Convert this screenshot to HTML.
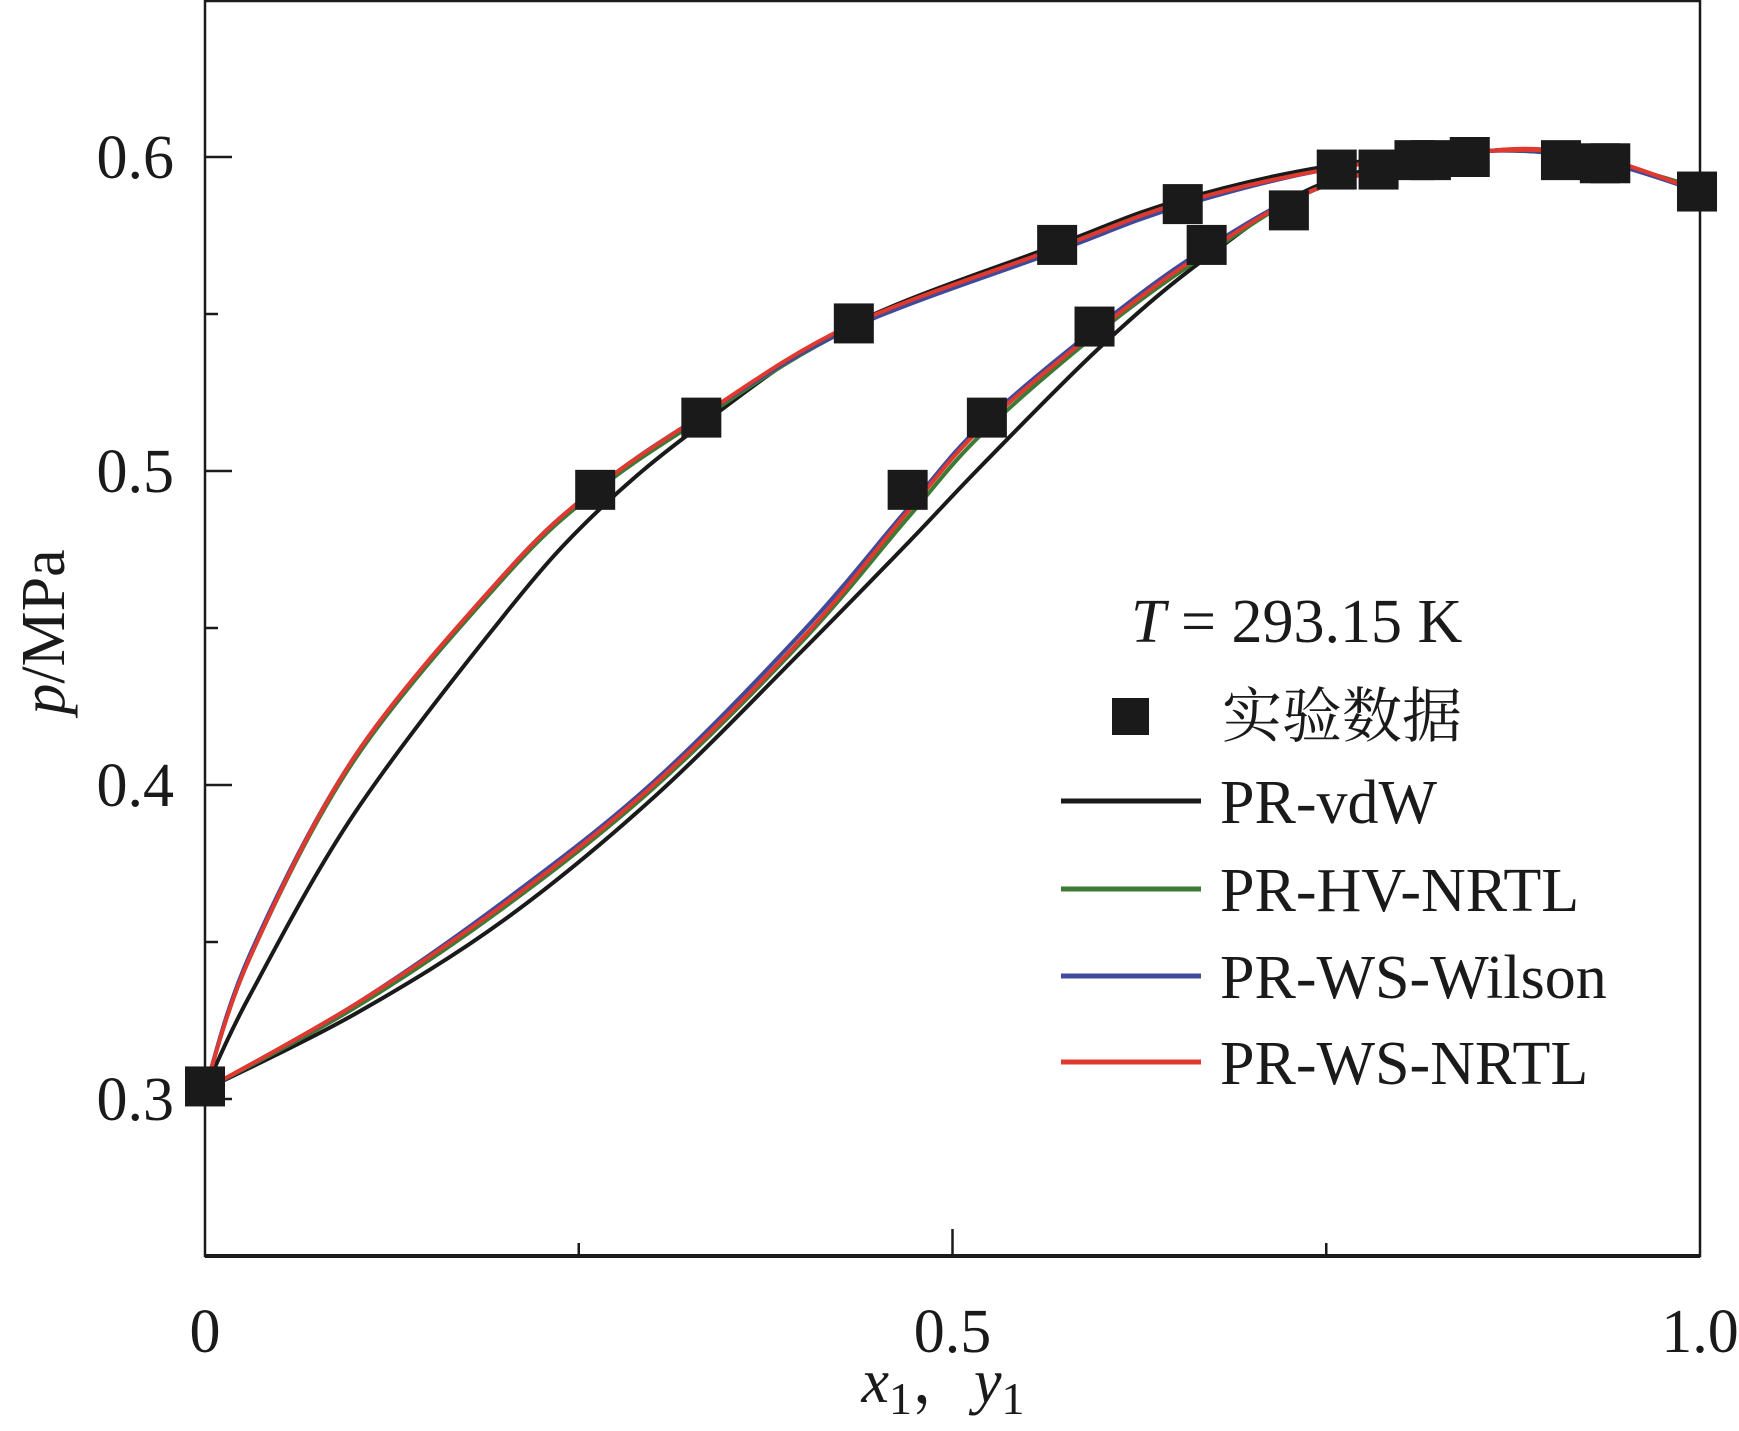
<!DOCTYPE html>
<html><head><meta charset="utf-8"><style>
html,body{margin:0;padding:0;background:#fff;}
svg text{font-family:"Liberation Serif","Noto Serif CJK SC",serif;fill:#1a1a1a;}
</style></head><body>
<svg id="chart" width="1739" height="1426" viewBox="0 0 1739 1426" xmlns="http://www.w3.org/2000/svg">
<g id="plot"></g>
</svg>
<script>
const xTicks=[0,0.25,0.5,0.75,1.0];
const xTickLabels=["0","","0.5","","1.0"];
const yTicks=[0.3,0.35,0.4,0.45,0.5,0.55,0.6];
const yTickLabels=["0.3","","0.4","","0.5","","0.6"];
const expX=[0,0.261,0.332,0.434,0.570,0.654,0.757,0.785,0.809,0.820,0.846,0.907,0.933,0.940,0.998,0.470,0.523,0.595,0.670,0.725];
const expP=[0.304,0.494,0.517,0.547,0.572,0.585,0.596,0.596,0.599,0.599,0.600,0.599,0.598,0.598,0.589,0.494,0.517,0.546,0.572,0.583];
const dewX=[0,0.03,0.1,0.2,0.26,0.33,0.43,0.57,0.65,0.75,0.86,0.93,1.0];
const bubX=[0,0.1,0.2,0.3,0.4,0.47,0.52,0.6,0.67,0.75,0.86,0.93,1.0];
const vdwDew=[0.303,0.333,0.391,0.454,0.486,0.514,0.546,0.572,0.586,0.597,0.602,0.599,0.590];
const vdwBub=[0.303,0.327,0.357,0.396,0.443,0.477,0.502,0.540,0.568,0.592,0.602,0.599,0.590];
const hvDew=[0.303,0.345,0.408,0.466,0.493,0.516,0.545,0.571,0.585,0.596,0.602,0.599,0.590];
const hvBub=[0.303,0.329,0.361,0.399,0.446,0.485,0.512,0.545,0.569,0.591,0.602,0.599,0.590];
const wilDew=[0.303,0.346,0.409,0.467,0.494,0.517,0.545,0.570,0.584,0.596,0.602,0.599,0.589];
const wilBub=[0.303,0.330,0.363,0.401,0.449,0.488,0.515,0.547,0.571,0.591,0.602,0.599,0.589];
const wsDew=[0.303,0.345,0.409,0.467,0.494,0.517,0.546,0.571,0.585,0.596,0.602,0.600,0.589];
const wsBub=[0.303,0.330,0.362,0.400,0.447,0.487,0.514,0.546,0.570,0.591,0.602,0.600,0.589];
const seriesNames=["PR-vdW","PR-HV-NRTL","PR-WS-Wilson","PR-WS-NRTL"];
const seriesColors=["#1a1a1a","#3d7a35","#3f4a9a","#e0392f"];

const L=205,R=1700,T=0,B=1256,pMin=0.25,pMax=0.65;
const sx=v=>L+(R-L)*v;
const sy=v=>B-(B-T)*(v-pMin)/(pMax-pMin);
const NS="http://www.w3.org/2000/svg";
const g=document.getElementById('plot');
function mk(tag,attrs,parent){const e=document.createElementNS(NS,tag);for(const k in attrs)e.setAttribute(k,attrs[k]);(parent||g).appendChild(e);return e;}
function smooth(xs,ps){const pts=xs.map((x,i)=>[sx(x),sy(ps[i])]);let d="M"+pts[0][0]+","+pts[0][1];
 for(let i=0;i<pts.length-1;i++){const p0=pts[Math.max(0,i-1)],p1=pts[i],p2=pts[i+1],p3=pts[Math.min(pts.length-1,i+2)];
 const c1=[p1[0]+(p2[0]-p0[0])/6,p1[1]+(p2[1]-p0[1])/6],c2=[p2[0]-(p3[0]-p1[0])/6,p2[1]-(p3[1]-p1[1])/6];
 d+=" C"+c1+" "+c2+" "+p2;}return d;}

let fr=mk('rect',{x:L,y:T+1,width:R-L,height:B-T-1,fill:'none',stroke:'#1a1a1a','stroke-width':2.5});


let bx=mk('line',{x1:L,y1:B,x2:R,y2:B,stroke:'#1a1a1a','stroke-width':4});


xTicks.forEach((v,i)=>{
 const len=(i===2)?27:13;
 if(i>0&&i<4){const t=mk('line',{x1:sx(v),y1:B,x2:sx(v),y2:B-len,stroke:'#1a1a1a','stroke-width':2.5});
 
 }
 if(xTickLabels[i]){const tx=mk('text',{x:sx(v),y:1352,'font-size':62,'text-anchor':'middle'});tx.textContent=xTickLabels[i];
 
 }
});
yTicks.forEach((v,i)=>{
 const len=yTickLabels[i]?27:13;
 const t=mk('line',{x1:L,y1:sy(v),x2:L+len,y2:sy(v),stroke:'#1a1a1a','stroke-width':2.5});
 
 
 if(yTickLabels[i]){const tx=mk('text',{x:174,y:sy(v)+21,'font-size':62,'text-anchor':'end'});tx.textContent=yTickLabels[i];
 
 }
});
let yt=mk('text',{x:0,y:0,'font-size':62,transform:'translate(64,632) rotate(-90)','text-anchor':'middle'});
yt.innerHTML='<tspan font-style="italic">p</tspan>/MPa';


let xt=mk('text',{x:943,y:1402,'font-size':62,'text-anchor':'middle'});
xt.innerHTML='<tspan font-style="italic">x</tspan><tspan font-size="46" dy="12">1</tspan><tspan dy="-12">，</tspan><tspan font-style="italic">y</tspan><tspan font-size="46" dy="12">1</tspan>';



const dews=[vdwDew,hvDew,wilDew,wsDew],bubs=[vdwBub,hvBub,wilBub,wsBub];
for(let s=0;s<4;s++){
 const a=mk('path',{d:smooth(dewX,dews[s]),fill:'none',stroke:seriesColors[s],'stroke-width':4});
 
 
 const b=mk('path',{d:smooth(bubX,bubs[s]),fill:'none',stroke:seriesColors[s],'stroke-width':4});
 
 
}
expX.forEach((x,i)=>{
 const m=mk('rect',{x:sx(x)-20,y:sy(expP[i])-20,width:40,height:40,fill:'#1a1a1a'});
 
 
});
const lg=mk('g',{});


const tt=mk('text',{x:1131,y:642,'font-size':62},lg);
tt.innerHTML='<tspan font-style="italic">T</tspan> = 293.15 K';


const lm=mk('rect',{x:1112,y:698,width:37,height:37,fill:'#1a1a1a'},lg);


const lt=mk('text',{x:1222,y:737,'font-size':60},lg);
lt.textContent='实验数据';


const ly=[801,889,976,1062];
seriesNames.forEach((n,i)=>{
 const l=mk('line',{x1:1061,y1:ly[i],x2:1201,y2:ly[i],stroke:seriesColors[i],'stroke-width':5},lg);
 
 
 const t=mk('text',{x:1220,y:ly[i]+22,'font-size':62},lg);
 t.textContent=n;
 
 
});
</script>
</body></html>
